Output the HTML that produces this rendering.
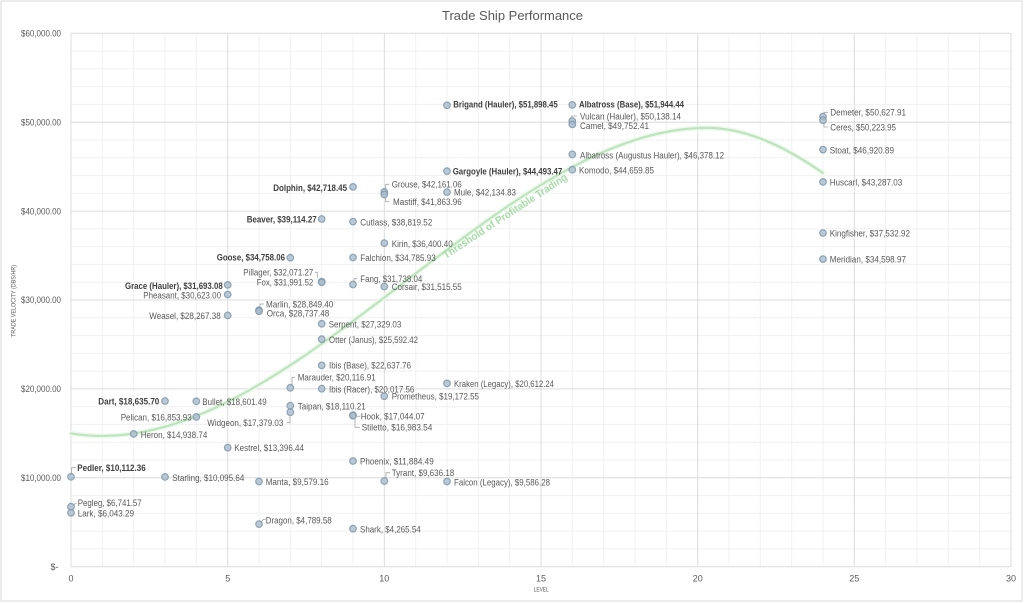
<!DOCTYPE html>
<html><head><meta charset="utf-8"><style>
html,body{margin:0;padding:0;background:#fff}
svg{display:block}
text{font-family:"Liberation Sans",Arial,sans-serif}
</style></head><body>
<svg width="1024" height="603" viewBox="0 0 1024 603" xmlns="http://www.w3.org/2000/svg">
<rect x="0" y="0" width="1024" height="603" fill="#fff"/>
<rect x="1" y="1" width="1021" height="600" fill="#fff" stroke="#d9d9d9" stroke-width="1"/>
<!-- minor gridlines -->
<g stroke="#f0f0f0" stroke-width="1">
<line x1="102.3" y1="33.3" x2="102.3" y2="566.7"/><line x1="133.7" y1="33.3" x2="133.7" y2="566.7"/><line x1="165" y1="33.3" x2="165" y2="566.7"/><line x1="196.3" y1="33.3" x2="196.3" y2="566.7"/>
<line x1="259" y1="33.3" x2="259" y2="566.7"/><line x1="290.3" y1="33.3" x2="290.3" y2="566.7"/><line x1="321.7" y1="33.3" x2="321.7" y2="566.7"/><line x1="353" y1="33.3" x2="353" y2="566.7"/>
<line x1="415.7" y1="33.3" x2="415.7" y2="566.7"/><line x1="447" y1="33.3" x2="447" y2="566.7"/><line x1="478.3" y1="33.3" x2="478.3" y2="566.7"/><line x1="509.7" y1="33.3" x2="509.7" y2="566.7"/>
<line x1="572.3" y1="33.3" x2="572.3" y2="566.7"/><line x1="603.7" y1="33.3" x2="603.7" y2="566.7"/><line x1="635" y1="33.3" x2="635" y2="566.7"/><line x1="666.3" y1="33.3" x2="666.3" y2="566.7"/>
<line x1="729" y1="33.3" x2="729" y2="566.7"/><line x1="760.3" y1="33.3" x2="760.3" y2="566.7"/><line x1="791.7" y1="33.3" x2="791.7" y2="566.7"/><line x1="823" y1="33.3" x2="823" y2="566.7"/>
<line x1="885.7" y1="33.3" x2="885.7" y2="566.7"/><line x1="917" y1="33.3" x2="917" y2="566.7"/><line x1="948.3" y1="33.3" x2="948.3" y2="566.7"/><line x1="979.7" y1="33.3" x2="979.7" y2="566.7"/>
<line x1="71" y1="51.1" x2="1011" y2="51.1"/><line x1="71" y1="68.9" x2="1011" y2="68.9"/><line x1="71" y1="86.7" x2="1011" y2="86.7"/><line x1="71" y1="104.4" x2="1011" y2="104.4"/>
<line x1="71" y1="140" x2="1011" y2="140"/><line x1="71" y1="157.8" x2="1011" y2="157.8"/><line x1="71" y1="175.6" x2="1011" y2="175.6"/><line x1="71" y1="193.3" x2="1011" y2="193.3"/>
<line x1="71" y1="228.9" x2="1011" y2="228.9"/><line x1="71" y1="246.7" x2="1011" y2="246.7"/><line x1="71" y1="264.4" x2="1011" y2="264.4"/><line x1="71" y1="282.2" x2="1011" y2="282.2"/>
<line x1="71" y1="317.8" x2="1011" y2="317.8"/><line x1="71" y1="335.6" x2="1011" y2="335.6"/><line x1="71" y1="353.3" x2="1011" y2="353.3"/><line x1="71" y1="371.1" x2="1011" y2="371.1"/>
<line x1="71" y1="406.7" x2="1011" y2="406.7"/><line x1="71" y1="424.4" x2="1011" y2="424.4"/><line x1="71" y1="442.2" x2="1011" y2="442.2"/><line x1="71" y1="460" x2="1011" y2="460"/>
<line x1="71" y1="495.6" x2="1011" y2="495.6"/><line x1="71" y1="513.3" x2="1011" y2="513.3"/><line x1="71" y1="531.1" x2="1011" y2="531.1"/><line x1="71" y1="548.9" x2="1011" y2="548.9"/>
</g>
<!-- major gridlines -->
<g stroke="#dcdcdc" stroke-width="1">
<line x1="71" y1="33.3" x2="71" y2="566.7"/><line x1="227.7" y1="33.3" x2="227.7" y2="566.7"/><line x1="384.3" y1="33.3" x2="384.3" y2="566.7"/><line x1="541" y1="33.3" x2="541" y2="566.7"/><line x1="697.7" y1="33.3" x2="697.7" y2="566.7"/><line x1="854.3" y1="33.3" x2="854.3" y2="566.7"/><line x1="1011" y1="33.3" x2="1011" y2="566.7"/>
<line x1="71" y1="33.3" x2="1011" y2="33.3"/><line x1="71" y1="122.2" x2="1011" y2="122.2"/><line x1="71" y1="211.1" x2="1011" y2="211.1"/><line x1="71" y1="300" x2="1011" y2="300"/><line x1="71" y1="388.9" x2="1011" y2="388.9"/><line x1="71" y1="477.8" x2="1011" y2="477.8"/><line x1="71" y1="566.7" x2="1011" y2="566.7"/>
</g>
<!-- title -->
<text x="442" y="20" font-size="13" fill="#595959" textLength="141" lengthAdjust="spacingAndGlyphs">Trade Ship Performance</text>
<!-- y tick labels -->
<g font-size="9" fill="#595959" text-anchor="end">
<text x="61" y="36.5" textLength="40" lengthAdjust="spacingAndGlyphs">$60,000.00</text>
<text x="61" y="125.4" textLength="40" lengthAdjust="spacingAndGlyphs">$50,000.00</text>
<text x="61" y="214.3" textLength="40" lengthAdjust="spacingAndGlyphs">$40,000.00</text>
<text x="61" y="303.2" textLength="40" lengthAdjust="spacingAndGlyphs">$30,000.00</text>
<text x="61" y="392.1" textLength="40" lengthAdjust="spacingAndGlyphs">$20,000.00</text>
<text x="61" y="481" textLength="40" lengthAdjust="spacingAndGlyphs">$10,000.00</text>
<text x="58.5" y="570">$-</text>
</g>
<!-- x tick labels -->
<g font-size="9" fill="#595959" text-anchor="middle">
<text x="71" y="581.5">0</text><text x="227.7" y="581.5">5</text><text x="384.3" y="581.5">10</text><text x="541" y="581.5">15</text><text x="697.7" y="581.5">20</text><text x="854.3" y="581.5">25</text><text x="1011" y="581.5">30</text>
</g>
<text x="533.7" y="591.5" font-size="6" fill="#595959" textLength="15" lengthAdjust="spacingAndGlyphs">LEVEL</text>
<text transform="translate(15.5,337) rotate(-90)" font-size="6" fill="#595959" textLength="72" lengthAdjust="spacingAndGlyphs">TRADE VELOCITY (DBS/HR)</text>
<!-- trend curve -->
<path d="M71,433.4 C144.1,445.6 217.2,413.1 290.3,365.2 C363.4,317.3 436.5,254.1 509.6,205 C575.4,160.8 641.2,127.9 707,127.9 C745.7,127.9 784.3,146 823,173" fill="none" stroke="#eef8ee" stroke-width="5" stroke-linecap="round"/>
<path d="M71,433.4 C144.1,445.6 217.2,413.1 290.3,365.2 C363.4,317.3 436.5,254.1 509.6,205 C575.4,160.8 641.2,127.9 707,127.9 C745.7,127.9 784.3,146 823,173" fill="none" stroke="#bde5bd" stroke-width="2.2" stroke-linecap="round"/>
<text transform="translate(446,259) rotate(-33.3)" font-size="10.5" font-weight="bold" fill="#a6dca6" textLength="146" lengthAdjust="spacingAndGlyphs">Threshold of Profitable Trading</text>
<!-- leader lines -->
<g fill="none" stroke="#a6a6a6" stroke-width="0.8">
<polyline points="71.7,474 71.7,467.7 76,467.7"/>
<polyline points="73,505 76.7,503"/>
<polyline points="261,522.7 263.3,519.3 265.7,519.3"/>
<polyline points="260,306.7 260,304 264,304"/>
<polyline points="315,272.3 317.3,272.3 317.3,278"/>
<polyline points="354,282.7 354,278.7 357,278.7"/>
<polyline points="385.7,190 385.7,184.3 389.3,184.3"/>
<polyline points="385.7,196.7 385.7,201.7 389.3,201.7"/>
<polyline points="292,385 292,377.3 295,377.3"/>
<polyline points="290,415.5 290,422.7 286.5,422.7"/>
<polyline points="355,419 355,427.3 360,427.3"/>
<polyline points="386,479 386,472.7 390,472.7"/>
<polyline points="570,119 572,116 577,116"/>
<polyline points="824,114 824,112.3 828,112.3"/>
<polyline points="824,123 824,127 828,127"/>
<line x1="357" y1="416.3" x2="360" y2="416.3"/>
</g>
<!-- markers -->
<g fill="#a9bccc" fill-opacity="0.8" stroke="#7f98ad" stroke-opacity="0.85" stroke-width="1.2">
<circle cx="71" cy="476.8" r="3.3"/><circle cx="71" cy="506.7" r="3.3"/><circle cx="71" cy="512.9" r="3.3"/>
<circle cx="165" cy="401" r="3.3"/><circle cx="196.3" cy="401.3" r="3.3"/><circle cx="196.3" cy="416.9" r="3.3"/>
<circle cx="133.7" cy="433.9" r="3.3"/><circle cx="227.7" cy="447.6" r="3.3"/><circle cx="165" cy="476.9" r="3.3"/>
<circle cx="259" cy="481.5" r="3.3"/><circle cx="259" cy="524.1" r="3.3"/>
<circle cx="227.7" cy="284.9" r="3.3"/><circle cx="227.7" cy="294.5" r="3.3"/><circle cx="227.7" cy="315.4" r="3.3"/>
<circle cx="290.3" cy="257.7" r="3.3"/><circle cx="321.7" cy="219" r="3.3"/><circle cx="353" cy="186.9" r="3.3"/>
<circle cx="321.7" cy="281.6" r="3.3"/><circle cx="321.7" cy="282.3" r="3.3"/>
<circle cx="259" cy="310.2" r="3.3"/><circle cx="259" cy="311.2" r="3.3"/>
<circle cx="321.7" cy="323.7" r="3.3"/><circle cx="321.7" cy="339.2" r="3.3"/><circle cx="321.7" cy="365.4" r="3.3"/>
<circle cx="290.3" cy="387.8" r="3.3"/><circle cx="321.7" cy="388.7" r="3.3"/><circle cx="290.3" cy="405.7" r="3.3"/><circle cx="290.3" cy="412.2" r="3.3"/>
<circle cx="384.3" cy="396.2" r="3.3"/><circle cx="353" cy="415.2" r="3.3"/><circle cx="353" cy="415.7" r="3.3"/>
<circle cx="353" cy="461" r="3.3"/><circle cx="384.3" cy="481" r="3.3"/><circle cx="447" cy="481.5" r="3.3"/>
<circle cx="447" cy="383.4" r="3.3"/><circle cx="353" cy="528.7" r="3.3"/>
<circle cx="384.3" cy="191.9" r="3.3"/><circle cx="384.3" cy="194.5" r="3.3"/><circle cx="447" cy="192.1" r="3.3"/>
<circle cx="353" cy="221.6" r="3.3"/><circle cx="384.3" cy="243.1" r="3.3"/><circle cx="353" cy="257.5" r="3.3"/>
<circle cx="353" cy="284.5" r="3.3"/><circle cx="384.3" cy="286.5" r="3.3"/>
<circle cx="447" cy="171.2" r="3.3"/><circle cx="447" cy="105.3" r="3.3"/>
<circle cx="572.3" cy="104.9" r="3.3"/><circle cx="572.3" cy="121" r="3.3"/><circle cx="572.3" cy="124.4" r="3.3"/>
<circle cx="572.3" cy="154.4" r="3.3"/><circle cx="572.3" cy="169.7" r="3.3"/>
<circle cx="823" cy="116.6" r="3.3"/><circle cx="823" cy="120.2" r="3.3"/><circle cx="823" cy="149.6" r="3.3"/>
<circle cx="823" cy="181.9" r="3.3"/><circle cx="823" cy="233" r="3.3"/><circle cx="823" cy="259.1" r="3.3"/>
</g>
<!-- regular labels -->
<g font-size="9" fill="#595959">
<text x="580" y="119.3" textLength="101" lengthAdjust="spacingAndGlyphs">Vulcan (Hauler), $50,138.14</text>
<text x="580" y="129" textLength="69" lengthAdjust="spacingAndGlyphs">Camel, $49,752.41</text>
<text x="580" y="158.3" textLength="144" lengthAdjust="spacingAndGlyphs">Albatross (Augustus Hauler), $46,378.12</text>
<text x="579" y="173.3" textLength="75" lengthAdjust="spacingAndGlyphs">Komodo, $44,659.85</text>
<text x="454" y="195.6" textLength="62" lengthAdjust="spacingAndGlyphs">Mule, $42,134.83</text>
<text x="391.7" y="187.6" textLength="70" lengthAdjust="spacingAndGlyphs">Grouse, $42,161.06</text>
<text x="393" y="205" textLength="68.7" lengthAdjust="spacingAndGlyphs">Mastiff, $41,863.96</text>
<text x="360.3" y="225.3" textLength="72" lengthAdjust="spacingAndGlyphs">Cutlass, $38,819.52</text>
<text x="391.7" y="247" textLength="61" lengthAdjust="spacingAndGlyphs">Kirin, $36,400.40</text>
<text x="360.3" y="261" textLength="75.4" lengthAdjust="spacingAndGlyphs">Falchion, $34,785.93</text>
<text x="360.3" y="282" textLength="62" lengthAdjust="spacingAndGlyphs">Fang, $31,738.04</text>
<text x="391.7" y="290" textLength="70" lengthAdjust="spacingAndGlyphs">Corsair, $31,515.55</text>
<text x="266" y="307.3" textLength="67.3" lengthAdjust="spacingAndGlyphs">Marlin, $28,849.40</text>
<text x="266.7" y="316.6" textLength="62.6" lengthAdjust="spacingAndGlyphs">Orca, $28,737.48</text>
<text x="328.7" y="327.3" textLength="72.6" lengthAdjust="spacingAndGlyphs">Serpent, $27,329.03</text>
<text x="329" y="343" textLength="89" lengthAdjust="spacingAndGlyphs">Otter (Janus), $25,592.42</text>
<text x="329" y="368.3" textLength="82" lengthAdjust="spacingAndGlyphs">Ibis (Base), $22,637.76</text>
<text x="297.7" y="380.6" textLength="78" lengthAdjust="spacingAndGlyphs">Marauder, $20,116.91</text>
<text x="329" y="392.3" textLength="85.3" lengthAdjust="spacingAndGlyphs">Ibis (Racer), $20,017.56</text>
<text x="297.7" y="409.3" textLength="68" lengthAdjust="spacingAndGlyphs">Taipan, $18,110.21</text>
<text x="283.3" y="426" text-anchor="end" textLength="76" lengthAdjust="spacingAndGlyphs">Widgeon, $17,379.03</text>
<text x="202.3" y="405" textLength="64.4" lengthAdjust="spacingAndGlyphs">Bullet, $18,601.49</text>
<text x="191.7" y="420.6" text-anchor="end" textLength="71" lengthAdjust="spacingAndGlyphs">Pelican, $16,853.93</text>
<text x="140.7" y="438" textLength="66.6" lengthAdjust="spacingAndGlyphs">Heron, $14,938.74</text>
<text x="220.7" y="319" text-anchor="end" textLength="71.4" lengthAdjust="spacingAndGlyphs">Weasel, $28,267.38</text>
<text x="234.3" y="451" textLength="69.7" lengthAdjust="spacingAndGlyphs">Kestrel, $13,396.44</text>
<text x="221" y="298.3" text-anchor="end" textLength="77.7" lengthAdjust="spacingAndGlyphs">Pheasant, $30,623.00</text>
<text x="313.3" y="275.6" text-anchor="end" textLength="70" lengthAdjust="spacingAndGlyphs">Pillager, $32,071.27</text>
<text x="313.3" y="285.3" text-anchor="end" textLength="56.6" lengthAdjust="spacingAndGlyphs">Fox, $31,991.52</text>
<text x="172.3" y="481" textLength="72" lengthAdjust="spacingAndGlyphs">Starling, $10,095.64</text>
<text x="265.7" y="485" textLength="63" lengthAdjust="spacingAndGlyphs">Manta, $9,579.16</text>
<text x="77.7" y="506" textLength="64" lengthAdjust="spacingAndGlyphs">Pegleg, $6,741.57</text>
<text x="77.7" y="516.6" textLength="56.3" lengthAdjust="spacingAndGlyphs">Lark, $6,043.29</text>
<text x="265.7" y="523.3" textLength="66" lengthAdjust="spacingAndGlyphs">Dragon, $4,789.58</text>
<text x="454" y="387" textLength="100" lengthAdjust="spacingAndGlyphs">Kraken (Legacy), $20,612.24</text>
<text x="391.7" y="399.6" textLength="87.3" lengthAdjust="spacingAndGlyphs">Prometheus, $19,172.55</text>
<text x="360.7" y="419.6" textLength="64" lengthAdjust="spacingAndGlyphs">Hook, $17,044.07</text>
<text x="361.7" y="430.6" textLength="70.6" lengthAdjust="spacingAndGlyphs">Stiletto, $16,983.54</text>
<text x="360" y="464.6" textLength="73.7" lengthAdjust="spacingAndGlyphs">Phoenix, $11,884.49</text>
<text x="391.7" y="476" textLength="62.6" lengthAdjust="spacingAndGlyphs">Tyrant, $9,636.18</text>
<text x="454" y="485.6" textLength="96" lengthAdjust="spacingAndGlyphs">Falcon (Legacy), $9,586.28</text>
<text x="360" y="532.6" textLength="60.7" lengthAdjust="spacingAndGlyphs">Shark, $4,265.54</text>
<text x="830.3" y="115.6" textLength="75.7" lengthAdjust="spacingAndGlyphs">Demeter, $50,627.91</text>
<text x="830.3" y="130.3" textLength="65.7" lengthAdjust="spacingAndGlyphs">Ceres, $50,223.95</text>
<text x="829.7" y="153.3" textLength="64.3" lengthAdjust="spacingAndGlyphs">Stoat, $46,920.89</text>
<text x="829.7" y="185.6" textLength="72.6" lengthAdjust="spacingAndGlyphs">Huscarl, $43,287.03</text>
<text x="829.7" y="236.6" textLength="80.3" lengthAdjust="spacingAndGlyphs">Kingfisher, $37,532.92</text>
<text x="829.7" y="262.6" textLength="76.3" lengthAdjust="spacingAndGlyphs">Meridian, $34,598.97</text>
</g>
<!-- bold labels -->
<g font-size="9" font-weight="bold" fill="#404040">
<text x="453.3" y="107.3" textLength="104.4" lengthAdjust="spacingAndGlyphs">Brigand (Hauler),  $51,898.45</text>
<text x="579" y="107.3" textLength="105" lengthAdjust="spacingAndGlyphs">Albatross (Base),  $51,944.44</text>
<text x="452.7" y="174.6" textLength="109.6" lengthAdjust="spacingAndGlyphs">Gargoyle (Hauler),  $44,493.47</text>
<text x="347" y="191" text-anchor="end" textLength="73.7" lengthAdjust="spacingAndGlyphs">Dolphin,  $42,718.45</text>
<text x="316.7" y="222.6" text-anchor="end" textLength="70" lengthAdjust="spacingAndGlyphs">Beaver,  $39,114.27</text>
<text x="285" y="260.6" text-anchor="end" textLength="68.3" lengthAdjust="spacingAndGlyphs">Goose,  $34,758.06</text>
<text x="222.7" y="289" text-anchor="end" textLength="97.7" lengthAdjust="spacingAndGlyphs">Grace (Hauler),  $31,693.08</text>
<text x="159.3" y="404.6" text-anchor="end" textLength="61" lengthAdjust="spacingAndGlyphs">Dart,  $18,635.70</text>
<text x="77.3" y="471" textLength="68.4" lengthAdjust="spacingAndGlyphs">Pedler,  $10,112.36</text>
</g>
</svg>
</body></html>
